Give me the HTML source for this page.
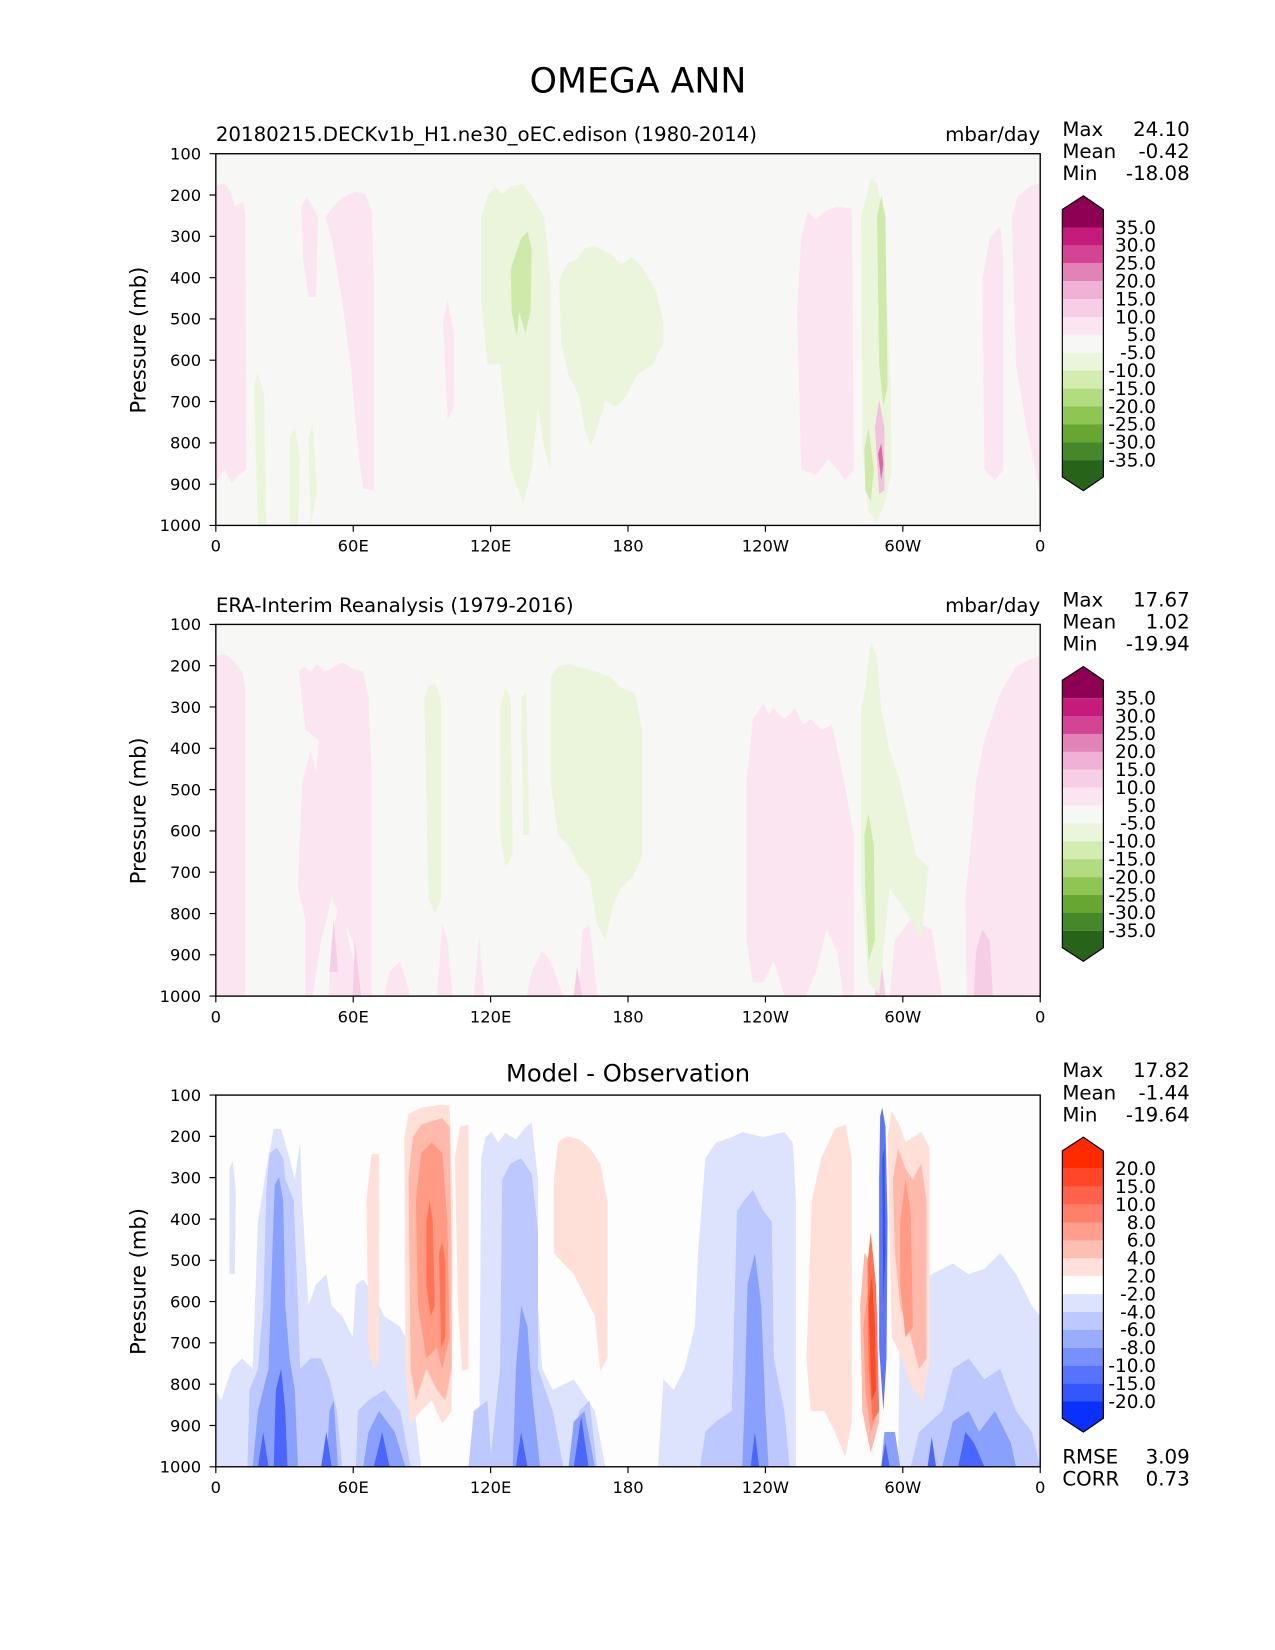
<!DOCTYPE html>
<html><head><meta charset="utf-8"><style>
html,body{margin:0;padding:0;background:#fff}
svg{display:block}
text{font-family:"DejaVu Sans","Liberation Sans",sans-serif;fill:#000}
</style></head><body>
<svg width="1275" height="1650" viewBox="0 0 1211 1567" preserveAspectRatio="none" xmlns="http://www.w3.org/2000/svg">
<text x="606" y="88" font-size="33" text-anchor="middle">OMEGA ANN</text>

<!-- ===== Panel 1 ===== -->
<g transform="translate(205,146)">
<rect x="0" y="0" width="783" height="353" fill="#f7f7f6"/>
<g fill="#fbe5f1">
<polygon points="0,30 8,28 14,36 18,50 26,46 28,60 29,300 22,305 15,313 8,300 0,313"/>
<polygon points="81,50 86,41 92,50 97,60 95,136 88,136 83,100"/>
<polygon points="104,60 112,50 120,42 132,36 142,38 148,55 150,120 150,320 140,318 136,290 128,200 120,140 110,80"/>
<polygon points="216,160 220,139 226,170 226,240 220,253"/>
<polygon points="552,150 556,80 562,55 570,62 580,54 590,50 604,52 606,300 598,310 582,290 570,305 556,300"/>
<polygon points="728,120 735,80 745,69 748,100 748,300 740,310 730,300"/>
<polygon points="756,60 762,40 775,30 783,28 783,323 770,260 760,200"/>
</g>
<g fill="#ebf5dc">
<polygon points="252,60 258,40 265,32 272,38 280,31 292,29 300,40 312,60 318,120 318,300 312,280 306,240 300,300 292,332 280,300 270,200 258,200 252,140"/>
<polygon points="326,120 334,104 344,100 350,90 360,88 375,95 385,105 395,98 405,108 418,130 425,160 425,180 415,200 400,210 390,230 380,240 370,235 362,262 356,278 350,260 345,230 335,210 328,180"/>
<polygon points="36,220 40,208 46,230 48,353 40,353"/>
<polygon points="70,270 75,260 80,290 78,353 70,353"/>
<polygon points="88,270 92,256 96,320 90,353"/>
<polygon points="613,60 618,40 622,23 628,28 634,60 641,220 642,300 636,330 628,350 620,340 614,280"/>
</g>
<g fill="#cfe9ab">
<polygon points="280,110 285,95 290,80 296,74 300,90 299,150 294,170 288,150 286,174 281,150"/>
<polygon points="628,60 632,40 636,60 638,220 634,240 630,200"/>
<polygon points="616,280 620,260 625,300 622,330 617,320"/>
</g>
<polygon points="626,260 630,234 635,260 635,320 630,323" fill="#f3c2df"/>
<polygon points="629,285 632,275 634,295 632,310" fill="#d66aa6"/>
</g>

<!-- ===== Panel 2 ===== -->
<g transform="translate(205,593)">
<rect x="0" y="0" width="783" height="353" fill="#f7f7f6"/>
<g fill="#fbe5f1">
<polygon points="0,30 8,28 16,34 25,45 28,60 28,353 0,353"/>
<polygon points="79,45 84,40 90,45 96,38 104,45 112,40 120,36 130,42 140,45 145,70 148,140 148,353 138,353 130,300 120,280 110,260 100,300 92,353 85,353 85,280 78,250 82,150 90,120 95,140 98,110 85,100"/>
<polygon points="107,353 110,300 118,260 126,300 140,353"/>
<polygon points="160,353 165,330 175,320 185,353"/>
<polygon points="210,353 215,285 220,300 225,353"/>
<polygon points="245,353 250,295 255,353"/>
<polygon points="295,353 300,330 310,310 318,320 330,353"/>
<polygon points="345,353 348,290 355,285 360,330 362,353"/>
<polygon points="504,150 510,90 520,75 525,85 530,80 540,90 550,80 558,95 565,90 575,100 585,95 595,140 606,200 606,353 596,353 590,310 580,290 570,330 560,353 540,353 530,320 520,340 510,340 504,300"/>
<polygon points="713,353 712,260 718,200 722,150 730,110 745,65 760,40 770,35 783,30 783,353"/>
<polygon points="640,353 645,300 660,280 680,290 690,353"/>
</g>
<g fill="#f6cde5">
<polygon points="720,353 722,310 728,290 735,300 738,353"/>
<polygon points="108,330 112,280 116,330"/>
<polygon points="130,353 132,300 138,353"/>
<polygon points="340,353 343,325 348,353"/>
<polygon points="626,353 630,300 636,353"/>
</g>
<g fill="#ebf5dc">
<polygon points="198,70 202,58 208,56 214,70 214,260 208,275 202,260"/>
<polygon points="318,50 325,40 335,38 350,42 365,46 375,50 385,60 398,65 405,100 405,220 396,240 385,250 378,265 370,300 362,285 355,240 345,230 335,210 325,200 318,150"/>
<polygon points="270,80 275,60 280,70 282,220 275,230 270,200"/>
<polygon points="290,70 295,65 298,200 292,200"/>
<polygon points="613,80 617,60 622,17 628,30 632,80 640,120 650,150 665,220 677,230 670,300 660,280 640,250 630,351 620,340 613,250"/>
</g>
<g fill="#cfe9ab">
<polygon points="616,200 620,180 625,210 626,300 620,320 617,260"/>
</g>
</g>

<!-- ===== Panel 3 ===== -->
<g transform="translate(205,1040)">
<rect x="0" y="0" width="783" height="353" fill="#fdfdfd"/>
<g fill="#dde3fd">
<polygon points="13,70 16,63 19,90 18,170 13,170"/>
<polygon points="0,353 0,280 5,290 15,260 25,250 35,260 40,120 48,70 55,32 62,32 70,60 75,80 80,45 82,100 88,200 95,180 105,170 110,200 120,210 130,230 133,180 140,175 150,190 160,210 175,220 185,240 189,300 195,353"/>
<polygon points="252,60 256,40 262,35 268,45 275,36 285,42 295,30 300,26 306,80 306,200 310,260 320,280 340,270 360,300 370,353 250,353"/>
<polygon points="420,353 425,270 435,280 445,260 455,220 458,150 465,60 475,45 490,40 500,35 520,40 540,35 548,45 551,100 551,353"/>
<polygon points="648,353 650,200 660,180 680,170 700,160 715,170 730,165 745,150 760,170 775,200 783,210 783,353"/>
</g>
<g fill="#bcc8fe">
<polygon points="48,90 51,55 58,50 64,60 66,80 74,100 78,200 80,260 90,250 100,250 108,270 115,300 120,353 30,353 32,280 40,260 45,200"/>
<polygon points="133,353 135,300 145,290 160,280 175,300 185,353"/>
<polygon points="270,260 272,80 280,65 290,60 300,75 306,130 306,260 320,300 330,353 260,353"/>
<polygon points="240,353 245,300 258,290 262,353"/>
<polygon points="340,353 345,300 355,290 362,353"/>
<polygon points="460,353 465,320 475,310 490,300 495,110 502,100 510,90 520,110 528,120 530,250 540,300 545,353"/>
<polygon points="660,353 668,320 690,300 700,260 715,250 730,270 745,260 760,300 775,320 783,353"/>
</g>
<g fill="#8aa0fd">
<polygon points="54,140 56,85 60,78 64,100 66,200 70,250 75,280 78,353 35,353 40,300 50,260"/>
<polygon points="105,353 108,300 112,290 116,353"/>
<polygon points="140,353 145,320 155,300 170,320 180,353"/>
<polygon points="282,353 285,260 290,200 296,220 300,280 308,353"/>
<polygon points="335,353 340,310 350,300 360,353"/>
<polygon points="500,353 502,300 505,180 512,150 518,200 522,300 525,353"/>
<polygon points="690,353 700,310 715,300 725,320 740,300 755,330 760,353"/>
<polygon points="632,353 635,320 645,320 650,353"/>
</g>
<g fill="#4a66fd">
<polygon points="55,353 57,280 62,260 66,300 68,353"/>
<polygon points="40,353 45,320 50,353"/>
<polygon points="100,353 105,320 110,353"/>
<polygon points="150,353 158,320 165,353"/>
<polygon points="285,353 290,320 296,353"/>
<polygon points="340,353 347,305 354,353"/>
<polygon points="508,353 512,320 516,353"/>
<polygon points="705,353 712,320 720,330 730,353"/>
<polygon points="632,353 636,330 640,353"/>
<polygon points="676,353 680,325 684,353"/>
</g>
<g fill="#ffe0d9">
<polygon points="143,100 148,56 155,56 155,250 150,262 145,240"/>
<polygon points="179,40 183,18 195,12 208,10 215,9 222,10 225,100 224,300 215,312 205,290 195,300 185,312 180,260"/>
<polygon points="227,60 232,30 240,28 240,260 234,262 230,200"/>
<polygon points="321,80 325,45 333,39 345,42 355,50 365,65 372,100 372,250 365,262 360,210 350,190 340,170 330,160 321,150"/>
<polygon points="561,250 566,100 575,60 588,32 598,28 604,60 604,310 598,344 588,320 578,300 565,300"/>
<polygon points="638,40 642,15 650,30 655,45 662,40 670,35 678,50 678,250 672,290 662,280 652,250 642,230"/>
</g>
<g fill="#ffb9aa">
<polygon points="183,80 187,40 195,28 205,25 215,22 222,30 224,150 224,260 218,290 210,280 200,260 190,290 185,260"/>
<polygon points="612,200 616,150 622,160 628,200 630,310 622,340 614,300"/>
<polygon points="643,80 648,50 655,70 662,80 670,65 675,100 675,250 668,260 660,230 650,200 645,150"/>
</g>
<g fill="#ff9a84">
<polygon points="190,100 195,55 205,45 215,55 220,120 222,230 215,260 210,240 200,250 192,200"/>
<polygon points="615,220 620,180 625,200 628,300 622,320 617,280"/>
<polygon points="650,120 655,80 660,110 662,220 655,230 650,180"/>
</g>
<g fill="#ff7455">
<polygon points="200,120 203,100 206,120 208,200 204,210 200,180"/>
<polygon points="212,150 215,140 218,160 218,230 214,240"/>
<polygon points="619,160 622,130 627,180 630,300 624,310 620,260"/>
</g>
<polygon points="620,200 623,170 626,220 627,280 623,290" fill="#ff4a2a"/>
<polygon points="631,20 633,12 636,30 638,120 637,250 634,300 630,240 630,80" fill="#5c77fb"/>
<polygon points="633,60 635,50 636,150 634,200" fill="#3453f8"/>
</g>

<g stroke="#000" stroke-width="1.3" fill="none">
<rect x="205" y="146" width="783" height="353"/>
<rect x="205" y="593" width="783" height="353"/>
<rect x="205" y="1040" width="783" height="353"/>
</g>
<g stroke="#000" stroke-width="1.1">
<path d="M199,146h6M199,185.2h6M199,224.4h6M199,263.7h6M199,302.9h6M199,342.1h6M199,381.3h6M199,420.6h6M199,459.8h6M199,499h6"/>
<path d="M199,593h6M199,632.2h6M199,671.4h6M199,710.7h6M199,749.9h6M199,789.1h6M199,828.3h6M199,867.6h6M199,906.8h6M199,946h6"/>
<path d="M199,1040h6M199,1079.2h6M199,1118.4h6M199,1157.7h6M199,1196.9h6M199,1236.1h6M199,1275.3h6M199,1314.6h6M199,1353.8h6M199,1393h6"/>
<path d="M205,499v6M335.5,499v6M466,499v6M596.5,499v6M727,499v6M857.5,499v6M988,499v6"/>
<path d="M205,946v6M335.5,946v6M466,946v6M596.5,946v6M727,946v6M857.5,946v6M988,946v6"/>
<path d="M205,1393v6M335.5,1393v6M466,1393v6M596.5,1393v6M727,1393v6M857.5,1393v6M988,1393v6"/>
</g>
<g font-size="15.5" text-anchor="end">
<g transform="translate(0,5.5)">
<text x="191" y="146">100</text><text x="191" y="185.2">200</text><text x="191" y="224.4">300</text><text x="191" y="263.7">400</text><text x="191" y="302.9">500</text><text x="191" y="342.1">600</text><text x="191" y="381.3">700</text><text x="191" y="420.6">800</text><text x="191" y="459.8">900</text><text x="191" y="499">1000</text>
<text x="191" y="593">100</text><text x="191" y="632.2">200</text><text x="191" y="671.4">300</text><text x="191" y="710.7">400</text><text x="191" y="749.9">500</text><text x="191" y="789.1">600</text><text x="191" y="828.3">700</text><text x="191" y="867.6">800</text><text x="191" y="906.8">900</text><text x="191" y="946">1000</text>
<text x="191" y="1040">100</text><text x="191" y="1079.2">200</text><text x="191" y="1118.4">300</text><text x="191" y="1157.7">400</text><text x="191" y="1196.9">500</text><text x="191" y="1236.1">600</text><text x="191" y="1275.3">700</text><text x="191" y="1314.6">800</text><text x="191" y="1353.8">900</text><text x="191" y="1393">1000</text>
</g>
</g>
<g font-size="15.5" text-anchor="middle">
<text x="205" y="524">0</text><text x="335.5" y="524">60E</text><text x="466" y="524">120E</text><text x="596.5" y="524">180</text><text x="727" y="524">120W</text><text x="857.5" y="524">60W</text><text x="988" y="524">0</text>
<text x="205" y="971">0</text><text x="335.5" y="971">60E</text><text x="466" y="971">120E</text><text x="596.5" y="971">180</text><text x="727" y="971">120W</text><text x="857.5" y="971">60W</text><text x="988" y="971">0</text>
<text x="205" y="1418">0</text><text x="335.5" y="1418">60E</text><text x="466" y="1418">120E</text><text x="596.5" y="1418">180</text><text x="727" y="1418">120W</text><text x="857.5" y="1418">60W</text><text x="988" y="1418">0</text>
</g>
<g font-size="20" text-anchor="middle">
<text transform="translate(138,323) rotate(-90)">Pressure (mb)</text>
<text transform="translate(138,770) rotate(-90)">Pressure (mb)</text>
<text transform="translate(138,1217) rotate(-90)">Pressure (mb)</text>
</g>
<g font-size="18.8">
<text x="205" y="134">20180215.DECKv1b_H1.ne30_oEC.edison (1980-2014)</text>
<text x="988" y="134" text-anchor="end">mbar/day</text>
<text x="205" y="581">ERA-Interim Reanalysis (1979-2016)</text>
<text x="988" y="581" text-anchor="end">mbar/day</text>
<text x="596.5" y="1027" text-anchor="middle" font-size="23">Model - Observation</text>
</g>
<g font-size="18.8">
<text x="1009" y="129">Max</text><text x="1130" y="129" text-anchor="end">24.10</text>
<text x="1009" y="150">Mean</text><text x="1130" y="150" text-anchor="end">-0.42</text>
<text x="1009" y="171">Min</text><text x="1130" y="171" text-anchor="end">-18.08</text>
<text x="1009" y="576">Max</text><text x="1130" y="576" text-anchor="end">17.67</text>
<text x="1009" y="597">Mean</text><text x="1130" y="597" text-anchor="end">1.02</text>
<text x="1009" y="618">Min</text><text x="1130" y="618" text-anchor="end">-19.94</text>
<text x="1009" y="1023">Max</text><text x="1130" y="1023" text-anchor="end">17.82</text>
<text x="1009" y="1044">Mean</text><text x="1130" y="1044" text-anchor="end">-1.44</text>
<text x="1009" y="1065">Min</text><text x="1130" y="1065" text-anchor="end">-19.64</text>
<text x="1009" y="1390">RMSE</text><text x="1130" y="1390" text-anchor="end">3.09</text>
<text x="1009" y="1411">CORR</text><text x="1130" y="1411" text-anchor="end">0.73</text>
</g>

<!-- Colorbar 1 -->
<g>
<polygon points="1009,199 1029,186 1048,199 1048,216 1009,216" fill="#8e0152"/>
<rect x="1009" y="216" width="39" height="17.1" fill="#c51b7d"/>
<rect x="1009" y="233" width="39" height="17.1" fill="#d44494"/>
<rect x="1009" y="250" width="39" height="17.1" fill="#e283b8"/>
<rect x="1009" y="267" width="39" height="17.1" fill="#efb2d6"/>
<rect x="1009" y="284" width="39" height="17.1" fill="#f6cfe6"/>
<rect x="1009" y="301" width="39" height="17.1" fill="#fbe5f1"/>
<rect x="1009" y="318" width="39" height="17.1" fill="#f7f7f6"/>
<rect x="1009" y="335" width="39" height="17.1" fill="#ebf5dc"/>
<rect x="1009" y="352" width="39" height="17.1" fill="#d3ecb0"/>
<rect x="1009" y="369" width="39" height="17.1" fill="#b3dc82"/>
<rect x="1009" y="386" width="39" height="17.1" fill="#8fc552"/>
<rect x="1009" y="403" width="39" height="17.1" fill="#67a631"/>
<rect x="1009" y="420" width="39" height="17.1" fill="#44882a"/>
<polygon points="1009,437 1048,437 1048,453 1029,466 1009,453" fill="#276419"/>
<polygon points="1009,199 1029,186 1048,199 1048,453 1029,466 1009,453" fill="none" stroke="#000" stroke-width="1.1"/>
<g font-size="17.5" text-anchor="end"><g transform="translate(0,6)">
<text x="1098" y="216">35.0</text><text x="1098" y="233">30.0</text><text x="1098" y="250">25.0</text><text x="1098" y="267">20.0</text><text x="1098" y="284">15.0</text><text x="1098" y="301">10.0</text><text x="1098" y="318">5.0</text><text x="1098" y="335">-5.0</text><text x="1098" y="352">-10.0</text><text x="1098" y="369">-15.0</text><text x="1098" y="386">-20.0</text><text x="1098" y="403">-25.0</text><text x="1098" y="420">-30.0</text><text x="1098" y="437">-35.0</text>
</g></g>
</g>
<!-- Colorbar 2 -->
<g transform="translate(0,447)">
<polygon points="1009,199 1029,186 1048,199 1048,216 1009,216" fill="#8e0152"/>
<rect x="1009" y="216" width="39" height="17.1" fill="#c51b7d"/>
<rect x="1009" y="233" width="39" height="17.1" fill="#d44494"/>
<rect x="1009" y="250" width="39" height="17.1" fill="#e283b8"/>
<rect x="1009" y="267" width="39" height="17.1" fill="#efb2d6"/>
<rect x="1009" y="284" width="39" height="17.1" fill="#f6cfe6"/>
<rect x="1009" y="301" width="39" height="17.1" fill="#fbe5f1"/>
<rect x="1009" y="318" width="39" height="17.1" fill="#f7f7f6"/>
<rect x="1009" y="335" width="39" height="17.1" fill="#ebf5dc"/>
<rect x="1009" y="352" width="39" height="17.1" fill="#d3ecb0"/>
<rect x="1009" y="369" width="39" height="17.1" fill="#b3dc82"/>
<rect x="1009" y="386" width="39" height="17.1" fill="#8fc552"/>
<rect x="1009" y="403" width="39" height="17.1" fill="#67a631"/>
<rect x="1009" y="420" width="39" height="17.1" fill="#44882a"/>
<polygon points="1009,437 1048,437 1048,453 1029,466 1009,453" fill="#276419"/>
<polygon points="1009,199 1029,186 1048,199 1048,453 1029,466 1009,453" fill="none" stroke="#000" stroke-width="1.1"/>
<g font-size="17.5" text-anchor="end"><g transform="translate(0,6)">
<text x="1098" y="216">35.0</text><text x="1098" y="233">30.0</text><text x="1098" y="250">25.0</text><text x="1098" y="267">20.0</text><text x="1098" y="284">15.0</text><text x="1098" y="301">10.0</text><text x="1098" y="318">5.0</text><text x="1098" y="335">-5.0</text><text x="1098" y="352">-10.0</text><text x="1098" y="369">-15.0</text><text x="1098" y="386">-20.0</text><text x="1098" y="403">-25.0</text><text x="1098" y="420">-30.0</text><text x="1098" y="437">-35.0</text>
</g></g>
</g>
<!-- Colorbar 3 -->
<g transform="translate(0,894)">
<polygon points="1009,199 1029,186 1048,199 1048,216 1009,216" fill="#ff2a00"/>
<rect x="1009" y="216" width="39" height="17.1" fill="#ff4628"/>
<rect x="1009" y="233" width="39" height="17.1" fill="#ff624a"/>
<rect x="1009" y="250" width="39" height="17.1" fill="#ff806a"/>
<rect x="1009" y="267" width="39" height="17.1" fill="#ff9e8c"/>
<rect x="1009" y="284" width="39" height="17.1" fill="#ffbeb2"/>
<rect x="1009" y="301" width="39" height="17.1" fill="#ffe0da"/>
<rect x="1009" y="318" width="39" height="17.1" fill="#ffffff"/>
<rect x="1009" y="335" width="39" height="17.1" fill="#dde3fd"/>
<rect x="1009" y="352" width="39" height="17.1" fill="#bcc8fe"/>
<rect x="1009" y="369" width="39" height="17.1" fill="#9aadfd"/>
<rect x="1009" y="386" width="39" height="17.1" fill="#7890fd"/>
<rect x="1009" y="403" width="39" height="17.1" fill="#5673fd"/>
<rect x="1009" y="420" width="39" height="17.1" fill="#3356fd"/>
<polygon points="1009,437 1048,437 1048,453 1029,466 1009,453" fill="#0a30fd"/>
<polygon points="1009,199 1029,186 1048,199 1048,453 1029,466 1009,453" fill="none" stroke="#000" stroke-width="1.1"/>
<g font-size="17.5" text-anchor="end"><g transform="translate(0,6)">
<text x="1098" y="216">20.0</text><text x="1098" y="233">15.0</text><text x="1098" y="250">10.0</text><text x="1098" y="267">8.0</text><text x="1098" y="284">6.0</text><text x="1098" y="301">4.0</text><text x="1098" y="318">2.0</text><text x="1098" y="335">-2.0</text><text x="1098" y="352">-4.0</text><text x="1098" y="369">-6.0</text><text x="1098" y="386">-8.0</text><text x="1098" y="403">-10.0</text><text x="1098" y="420">-15.0</text><text x="1098" y="437">-20.0</text>
</g></g>
</g>
</svg>
</body></html>
